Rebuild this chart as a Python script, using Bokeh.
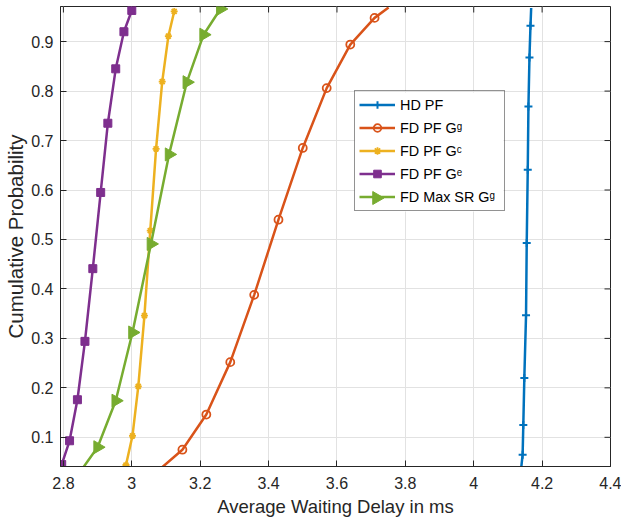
import math
from bokeh.plotting import figure
from bokeh.models import FixedTicker, Legend, LegendItem
from bokeh.embed import file_html
from bokeh.resources import INLINE

# ---------------- data ----------------
x_ticks = [2.8, 3.0, 3.2, 3.4, 3.6, 3.8, 4.0, 4.2, 4.4]
x_tick_labels = ["2.8", "3", "3.2", "3.4", "3.6", "3.8", "4", "4.2", "4.4"]
y_ticks = [0.1, 0.2, 0.3, 0.4, 0.5, 0.6, 0.7, 0.8, 0.9]
y_tick_labels = ["0.1", "0.2", "0.3", "0.4", "0.5", "0.6", "0.7", "0.8", "0.9"]

series_labels = ["HD PF", "FD PF G\u1d4d", "FD PF G\u1d9c", "FD PF G\u1d49", "FD Max SR G\u1d4d"]

# HD PF
hd_line_x = [4.139, 4.143, 4.145, 4.148, 4.153, 4.155, 4.158, 4.160, 4.163, 4.166, 4.168]
hd_line_y = [0.039, 0.065, 0.125, 0.220, 0.347, 0.493, 0.641, 0.769, 0.868, 0.932, 0.968]
hd_mark_x = [4.143, 4.145, 4.148, 4.153, 4.155, 4.158, 4.160, 4.163, 4.166]
hd_mark_y = [0.065, 0.125, 0.220, 0.347, 0.493, 0.641, 0.769, 0.868, 0.932]

# FD PF G^g
fg_line_x = [3.088, 3.148, 3.218, 3.288, 3.358, 3.429, 3.500, 3.570, 3.639, 3.710, 3.751]
fg_line_y = [0.039, 0.075, 0.146, 0.252, 0.388, 0.540, 0.685, 0.806, 0.894, 0.948, 0.969]
fg_mark_x = [3.148, 3.218, 3.288, 3.358, 3.429, 3.500, 3.570, 3.639, 3.710]
fg_mark_y = [0.075, 0.146, 0.252, 0.388, 0.540, 0.685, 0.806, 0.894, 0.948]

# FD PF G^c
fc_line_x = [2.980, 2.983, 3.002, 3.019, 3.037, 3.054, 3.071, 3.089, 3.107, 3.124]
fc_line_y = [0.039, 0.044, 0.103, 0.203, 0.346, 0.518, 0.683, 0.819, 0.911, 0.961]
fc_mark_x = [2.983, 3.002, 3.019, 3.037, 3.054, 3.071, 3.089, 3.107, 3.124]
fc_mark_y = [0.044, 0.103, 0.203, 0.346, 0.518, 0.683, 0.819, 0.911, 0.961]

# FD PF G^e
fe_line_x = [2.794, 2.795, 2.818, 2.841, 2.863, 2.886, 2.909, 2.930, 2.953, 2.977, 3.000]
fe_line_y = [0.039, 0.045, 0.093, 0.176, 0.294, 0.441, 0.595, 0.735, 0.845, 0.920, 0.963]
fe_mark_x = [2.795, 2.818, 2.841, 2.863, 2.886, 2.909, 2.930, 2.953, 2.977, 3.000]
fe_mark_y = [0.045, 0.093, 0.176, 0.294, 0.441, 0.595, 0.735, 0.845, 0.920, 0.963]

# FD Max SR G^g
ms_line_x = [2.858, 2.900, 2.953, 3.002, 3.056, 3.109, 3.161, 3.210, 3.259]
ms_line_y = [0.039, 0.080, 0.174, 0.312, 0.491, 0.672, 0.818, 0.914, 0.966]
ms_mark_x = [2.900, 2.953, 3.002, 3.056, 3.109, 3.161, 3.210, 3.259]
ms_mark_y = [0.080, 0.174, 0.312, 0.491, 0.672, 0.818, 0.914, 0.966]

x_limits = (2.7915, 4.4)
y_limits = (0.041, 0.971)

# ---------------- styling / layout ----------------
C_BLUE, C_ORANGE, C_YELLOW, C_PURPLE, C_GREEN = "#0072BD", "#D95319", "#EDB120", "#7E2F8E", "#77AC30"
AX = "#262626"
FONT = "Liberation Sans"
LW = 2.5

W, H = 621, 522
BL, BR, BT, BB = 60, 11, 6, 56
FW, FH = W - BL - BR, H - BT - BB
dx_px = (x_limits[1] - x_limits[0]) / FW
dy_px = (y_limits[1] - y_limits[0]) / FH
TICK = 6

p = figure(width=W, height=H, x_range=x_limits, y_range=y_limits,
           output_backend="svg", toolbar_location=None,
           min_border_left=BL, min_border_right=BR, min_border_top=BT, min_border_bottom=BB)
p.background_fill_color = "white"
p.border_fill_color = "white"
p.outline_line_color = AX
p.outline_line_width = 1

for ax in (p.xaxis[0], p.yaxis[0]):
    ax.axis_line_color = AX
    ax.major_tick_line_color = AX
    ax.major_tick_in = TICK
    ax.major_tick_out = 0
    ax.minor_tick_line_color = None
    ax.major_label_text_font = FONT
    ax.major_label_text_font_size = "16px"
    ax.major_label_text_color = AX
    ax.axis_label_text_font = FONT
    ax.axis_label_text_font_style = "normal"
    ax.axis_label_text_color = AX

p.xaxis[0].ticker = FixedTicker(ticks=x_ticks)
p.xaxis[0].major_label_overrides = dict(zip(x_ticks, x_tick_labels))
p.xaxis[0].axis_label = "Average Waiting Delay in ms"
p.xaxis[0].axis_label_text_font_size = "18.5px"
p.xaxis[0].major_label_standoff = 10
p.xaxis[0].axis_label_standoff = 4

p.yaxis[0].ticker = FixedTicker(ticks=y_ticks)
p.yaxis[0].major_label_overrides = dict(zip(y_ticks, y_tick_labels))
p.yaxis[0].axis_label = "Cumulative Probability"
p.yaxis[0].axis_label_text_font_size = "20.5px"
p.yaxis[0].major_label_standoff = 7
p.yaxis[0].axis_label_standoff = 1

p.xgrid.ticker = FixedTicker(ticks=x_ticks)
p.ygrid.ticker = FixedTicker(ticks=y_ticks)
p.grid.grid_line_color = "#e2e2e2"
p.grid.grid_line_width = 1

# inward ticks on the top and right edges of the box (derived from the tick lists)
p.segment(x0=x_ticks, x1=x_ticks, y0=[y_limits[1]] * len(x_ticks),
          y1=[y_limits[1] - TICK * dy_px] * len(x_ticks), line_color=AX, line_width=1)
p.segment(x0=[x_limits[1]] * len(y_ticks), x1=[x_limits[1] - TICK * dx_px] * len(y_ticks),
          y0=y_ticks, y1=y_ticks, line_color=AX, line_width=1)

items = []

r1 = p.line(hd_line_x, hd_line_y, line_color=C_BLUE, line_width=LW)
m1 = p.scatter(hd_mark_x, hd_mark_y, marker="cross", size=8, line_color=C_BLUE, line_width=2)
items.append(LegendItem(label=series_labels[0], renderers=[r1, m1]))

r2 = p.line(fg_line_x, fg_line_y, line_color=C_ORANGE, line_width=LW)
m2 = p.scatter(fg_mark_x, fg_mark_y, marker="circle", size=8, line_color=C_ORANGE, fill_color=None, line_width=1.8)
items.append(LegendItem(label=series_labels[1], renderers=[r2, m2]))

r3 = p.line(fc_line_x, fc_line_y, line_color=C_YELLOW, line_width=LW)
m3 = p.scatter(fc_mark_x, fc_mark_y, marker="asterisk", size=7, line_color=C_YELLOW, line_width=1.8)
items.append(LegendItem(label=series_labels[2], renderers=[r3, m3]))

r4 = p.line(fe_line_x, fe_line_y, line_color=C_PURPLE, line_width=LW)
m4 = p.scatter(fe_mark_x, fe_mark_y, marker="square", size=8, line_color=C_PURPLE, fill_color=C_PURPLE, line_width=1)
items.append(LegendItem(label=series_labels[3], renderers=[r4, m4]))

r5 = p.line(ms_line_x, ms_line_y, line_color=C_GREEN, line_width=LW)
m5 = p.scatter(ms_mark_x, ms_mark_y, marker="triangle", angle=-math.pi / 2, size=13,
               line_color=C_GREEN, fill_color=C_GREEN, line_width=1)
items.append(LegendItem(label=series_labels[4], renderers=[r5]))

# legend layout
LEG_LEFT, LEG_TOP = 294, 86          # offsets from the frame's left / top edge
PAD, GW, ROW, SP, STANDOFF, LABEL_W = 4, 36, 19, 4, 5, 100
n_items = len(items)
leg_h = 2 * PAD + n_items * ROW + (n_items - 1) * SP
leg_w = 2 * PAD + GW + STANDOFF + LABEL_W

# white legend background drawn as a glyph so the legend's marker overlay can sit on top
p.quad(left=[x_limits[0] + LEG_LEFT * dx_px], right=[x_limits[0] + (LEG_LEFT + leg_w) * dx_px],
       top=[y_limits[1] - LEG_TOP * dy_px], bottom=[y_limits[1] - (LEG_TOP + leg_h) * dy_px],
       fill_color="white", line_color=None)

# right-pointing triangle glyph for the last legend entry (legend ignores marker angle)
lx = x_limits[0] + (LEG_LEFT + PAD + GW / 2) * dx_px
ly = y_limits[1] - (LEG_TOP + PAD + (n_items - 1) * (ROW + SP) + ROW / 2) * dy_px
p.scatter([lx], [ly], marker="triangle", angle=-math.pi / 2, size=13,
          line_color=C_GREEN, fill_color=C_GREEN, line_width=1)

legend = Legend(items=items, location=(LEG_LEFT, FH - LEG_TOP - leg_h))
legend.border_line_color = AX
legend.border_line_width = 1
legend.background_fill_alpha = 0
legend.label_text_font = FONT
legend.label_text_font_size = "14.4px"
legend.label_text_color = "black"
legend.glyph_width = GW
legend.glyph_height = ROW
legend.label_height = ROW
legend.label_width = LABEL_W
legend.label_standoff = STANDOFF
legend.spacing = SP
legend.padding = PAD
legend.margin = 0
p.add_layout(legend)

open("out.html", "w").write(file_html(p, INLINE))
